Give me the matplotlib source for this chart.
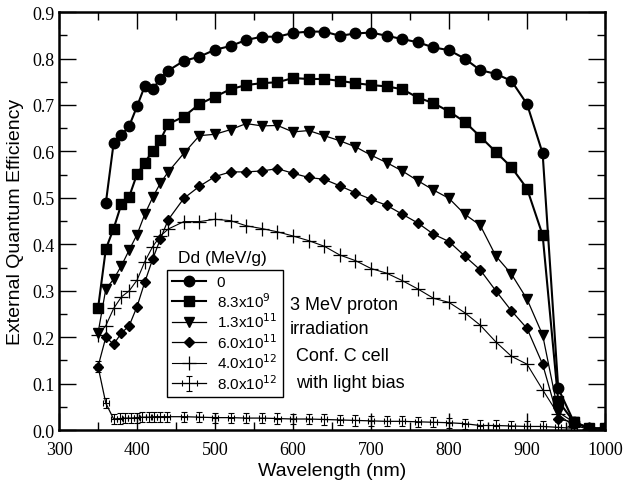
import matplotlib

matplotlib.use("Agg")
import matplotlib.pyplot as plt
from matplotlib.ticker import FormatStrFormatter, MultipleLocator

plt.rcParams.update(
    {
        "font.family": "Liberation Sans",
        "xtick.direction": "in",
        "ytick.direction": "in",
        "xtick.top": True,
        "ytick.right": True,
    }
)

# --- data ---
wl_tail = [460, 480, 500, 520, 540, 560, 580, 600, 620, 640, 660, 680, 700,
           720, 740, 760, 780, 800, 820, 840, 860, 880, 900, 920, 940, 960,
           980, 1000]
wl_head = [350, 360, 370, 380, 390, 400, 410, 420, 430, 440]

wl_d0 = wl_head[1:] + wl_tail
eqe_d0 = [0.489, 0.618, 0.635, 0.655, 0.697, 0.741, 0.734, 0.757, 0.774,
          0.795, 0.804, 0.819, 0.827, 0.840, 0.847, 0.847, 0.855, 0.858, 0.858,
          0.849, 0.854, 0.856, 0.849, 0.842, 0.835, 0.824, 0.818, 0.800, 0.775,
          0.767, 0.752, 0.702, 0.596, 0.090, 0.018, 0.004, 0.004]

wl_d1 = wl_head + wl_tail
eqe_d1 = [0.262, 0.390, 0.434, 0.487, 0.503, 0.551, 0.576, 0.601, 0.625, 0.659,
          0.675, 0.702, 0.718, 0.734, 0.743, 0.747, 0.749, 0.758, 0.756, 0.756,
          0.752, 0.747, 0.743, 0.740, 0.734, 0.716, 0.704, 0.686, 0.664, 0.632,
          0.599, 0.566, 0.520, 0.420, 0.063, 0.018, 0.004, 0.004]

eqe_d2 = [0.209, 0.304, 0.325, 0.354, 0.388, 0.421, 0.465, 0.501, 0.532, 0.556,
          0.596, 0.634, 0.637, 0.647, 0.660, 0.655, 0.656, 0.642, 0.645, 0.634,
          0.623, 0.610, 0.592, 0.576, 0.558, 0.537, 0.517, 0.499, 0.465, 0.441,
          0.375, 0.336, 0.282, 0.205, 0.039, 0.017, 0.003, 0.003]

eqe_d3 = [0.137, 0.200, 0.185, 0.209, 0.225, 0.266, 0.319, 0.368, 0.412, 0.453,
          0.499, 0.525, 0.546, 0.556, 0.556, 0.558, 0.563, 0.553, 0.544, 0.540,
          0.526, 0.511, 0.497, 0.484, 0.465, 0.446, 0.422, 0.406, 0.375, 0.345,
          0.300, 0.257, 0.219, 0.142, 0.024, 0.017, 0.003, 0.003]

eqe_d4 = [0.205, 0.225, 0.262, 0.287, 0.300, 0.323, 0.363, 0.395, 0.418, 0.433,
          0.449, 0.449, 0.454, 0.451, 0.440, 0.434, 0.427, 0.418, 0.408, 0.396,
          0.377, 0.365, 0.348, 0.338, 0.322, 0.304, 0.284, 0.275, 0.253, 0.226,
          0.190, 0.159, 0.142, 0.087, 0.034, 0.009, 0.003, 0.003]

wl_d5 = [350, 360, 370, 378, 385, 392, 400, 407, 415, 422, 430, 438, 460, 480,
         500, 520, 540, 560, 580, 600, 620, 640, 660, 680, 700, 720, 740, 760,
         780, 800, 820, 840, 860, 880, 900, 920, 940, 960]
eqe_d5 = [0.137, 0.058, 0.024, 0.025, 0.026, 0.026, 0.027, 0.028, 0.028, 0.029,
          0.029, 0.029, 0.029, 0.028, 0.027, 0.027, 0.026, 0.026, 0.025, 0.024,
          0.024, 0.023, 0.022, 0.021, 0.020, 0.019, 0.019, 0.018, 0.017, 0.016,
          0.014, 0.010, 0.010, 0.009, 0.008, 0.008, 0.006, 0.004]

labels = ["0", r"8.3x10$^{9}$", r"1.3x10$^{11}$", r"6.0x10$^{11}$",
          r"4.0x10$^{12}$", r"8.0x10$^{12}$"]

# --- plotting ---
fig = plt.figure(figsize=(6.24, 4.85), dpi=100)
ax = fig.add_axes([0.0946, 0.111, 0.875, 0.862])

ax.plot(wl_d0, eqe_d0, "-o", color="black", lw=1.5, ms=7.5, label=labels[0])
ax.plot(wl_d1, eqe_d1, "-s", color="black", lw=1.5, ms=7, label=labels[1])
ax.plot(wl_d1, eqe_d2, "-v", color="black", lw=0.9, ms=7.5, label=labels[2])
ax.plot(wl_d1, eqe_d3, "-D", color="black", lw=0.9, ms=5.5, label=labels[3])
ax.plot(wl_d1, eqe_d4, "-+", color="black", lw=0.8, ms=10, mew=0.9,
        label=labels[4])
ax.errorbar(wl_d5, eqe_d5, yerr=0.011, xerr=4, fmt="-", color="black",
            lw=0.9, elinewidth=0.8, capsize=2, capthick=0.8, label=labels[5])

ax.set_xlim(300, 1000)
ax.set_ylim(0.0, 0.9)
ax.xaxis.set_major_locator(MultipleLocator(100))
ax.xaxis.set_minor_locator(MultipleLocator(50))
ax.yaxis.set_major_locator(MultipleLocator(0.1))
ax.yaxis.set_minor_locator(MultipleLocator(0.05))
ax.yaxis.set_major_formatter(FormatStrFormatter("%.1f"))
ax.tick_params(which="major", length=12, width=1)
ax.tick_params(which="minor", length=6, width=1)
ax.tick_params(labelsize=13)
ax.tick_params(axis="x", pad=8)
ax.tick_params(axis="y", pad=3)
for lab in ax.get_xticklabels() + ax.get_yticklabels():
    lab.set_family("Liberation Serif")
for sp in ax.spines.values():
    sp.set_linewidth(1.8)

ax.set_xlabel("Wavelength (nm)", fontsize=14, labelpad=3)
ax.set_ylabel("External Quantum Efficiency", fontsize=14, labelpad=6)

leg = ax.legend(loc="lower left", bbox_to_anchor=(0.198, 0.079),
                borderaxespad=0, fancybox=False, framealpha=1,
                edgecolor="black", fontsize=11, handlelength=2.2,
                labelspacing=0.12, borderpad=0.35, handletextpad=0.7)
leg.get_frame().set_linewidth(1.0)

ax.text(0.218, 0.414, "Dd (MeV/g)", transform=ax.transAxes, fontsize=12.5,
        va="center")
ax.text(0.423, 0.301, "3 MeV proton", transform=ax.transAxes, fontsize=13,
        va="center")
ax.text(0.423, 0.244, "irradiation", transform=ax.transAxes, fontsize=13,
        va="center")
ax.text(0.434, 0.179, "Conf. C cell", transform=ax.transAxes, fontsize=13,
        va="center")
ax.text(0.434, 0.115, "with light bias", transform=ax.transAxes, fontsize=13,
        va="center")

fig.savefig("out.png", dpi=100)
